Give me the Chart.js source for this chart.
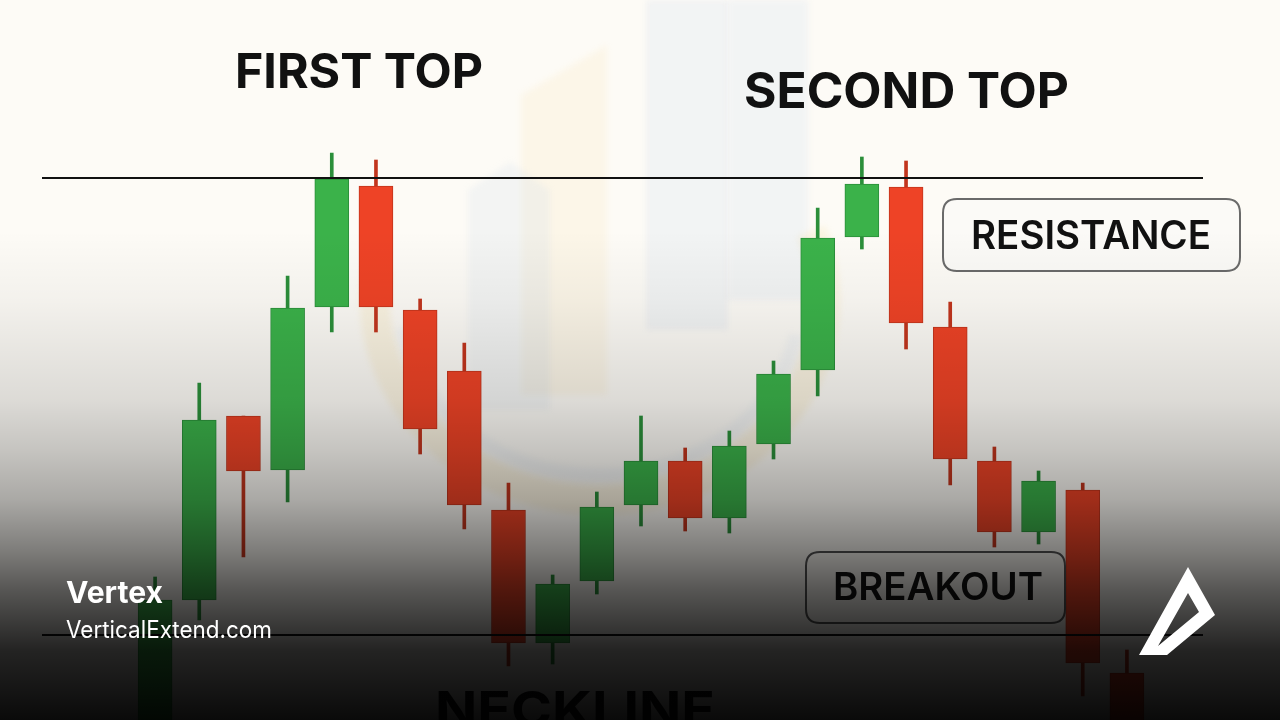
<!DOCTYPE html>
<html>
<head>
<meta charset="utf-8">
<script src="https://cdn.jsdelivr.net/npm/chart.js@4.4.1/dist/chart.umd.min.js"></script>
<style>
  html, body { margin: 0; padding: 0; background: #fdfbf6; overflow: hidden; }
  #wrap { position: relative; width: 1280px; height: 720px; }
</style>
</head>
<body>
<div id="wrap"><canvas id="c" width="1280" height="720"></canvas></div>
<script>
// ---- Data (price units) ----
const categories = ['1','2','3','4','5','6','7','8','9','10','11','12','13','14','15','16','17','18','19','20','21','22','23'];
const opens  = [-5, 24, 60.8, 50, 82.6, 106.8, 82, 69.8, 42, 15.4, 27.8, 43, 51.8, 40.4, 55.2, 70, 96.6, 106.6, 78.6, 51.8, 37.6, 46, 9.4];
const closes = [24, 60, 49.8, 82.4, 108.2, 82.6, 58.2, 43, 15.4, 27.2, 42.6, 51.8, 40.4, 54.8, 69.2, 96.4, 107.2, 79.4, 52.2, 37.6, 47.8, 11.4, -5];
const highs  = [28.6, 67.4, 60.8, 88.8, 113.4, 112, 84.2, 75.4, 47.4, 29, 45.6, 60.8, 54.4, 57.8, 71.8, 102.4, 112.6, 111.8, 83.6, 54.6, 49.8, 47.4, 14];
const lows   = [-10, 20, 32.6, 43.6, 77.6, 77.6, 53.2, 38.2, 10.8, 11.2, 25.2, 38.8, 37.8, 37.4, 52.2, 64.8, 94.2, 74.2, 47, 34.6, 35.2, 4.8, -10];
const resistanceLevel = 108.4;
const necklineLevel = 17;
const yMin = 0, yMax = 144;

const GREEN = '#3bb24a', GREEN_B = '#2b8f3a';
const RED = '#ee4326', RED_B = '#c2351d';
const isUp = opens.map((o, i) => closes[i] >= o);

function roundRect(ctx, x, y, w, h, r) {
  ctx.beginPath();
  ctx.moveTo(x + r, y);
  ctx.lineTo(x + w - r, y);
  ctx.quadraticCurveTo(x + w, y, x + w, y + r);
  ctx.lineTo(x + w, y + h - r);
  ctx.quadraticCurveTo(x + w, y + h, x + w - r, y + h);
  ctx.lineTo(x + r, y + h);
  ctx.quadraticCurveTo(x, y + h, x, y + h - r);
  ctx.lineTo(x, y + r);
  ctx.quadraticCurveTo(x, y, x + r, y);
  ctx.closePath();
}
function fitText(ctx, text, x, baseline, width, font, color) {
  ctx.save();
  ctx.font = font;
  ctx.fillStyle = color;
  ctx.textBaseline = 'alphabetic';
  ctx.textAlign = 'left';
  const w = ctx.measureText(text).width;
  ctx.translate(x, baseline);
  ctx.scale(width / w, 1);
  ctx.fillText(text, 0, 0);
  ctx.restore();
}

const backdrop = {
  id: 'backdrop',
  beforeDraw(chart) {
    const ctx = chart.ctx;
    ctx.save();
    ctx.fillStyle = '#fdfbf6';
    ctx.fillRect(0, 0, 1280, 720);
    // faint, soft watermark
    ctx.filter = 'blur(3px)';
    ctx.fillStyle = 'rgba(205,218,236,0.22)';
    ctx.fillRect(646, 0, 82, 330);
    ctx.fillStyle = 'rgba(215,228,242,0.28)';
    ctx.fillRect(728, 0, 80, 300);
    ctx.fillStyle = 'rgba(250,232,180,0.2)';
    ctx.beginPath();
    ctx.moveTo(521, 95); ctx.lineTo(607, 45); ctx.lineTo(607, 395); ctx.lineTo(521, 395); ctx.closePath(); ctx.fill();
    ctx.fillStyle = 'rgba(205,218,236,0.2)';
    ctx.beginPath();
    ctx.moveTo(468, 190); ctx.lineTo(510, 162); ctx.lineTo(550, 190); ctx.lineTo(550, 410); ctx.lineTo(468, 410); ctx.closePath(); ctx.fill();
    ctx.strokeStyle = 'rgba(245,215,140,0.18)';
    ctx.lineWidth = 30;
    ctx.beginPath();
    ctx.ellipse(600, 300, 225, 200, 0, -0.35, Math.PI * 1.05);
    ctx.stroke();
    ctx.strokeStyle = 'rgba(200,215,235,0.16)';
    ctx.lineWidth = 14;
    ctx.beginPath();
    ctx.ellipse(600, 300, 200, 175, 0, 0.2, Math.PI * 0.95);
    ctx.stroke();
    ctx.filter = 'none';
    ctx.restore();
  },
  afterDatasetsDraw(chart) {
    const ctx = chart.ctx;
    const y = chart.scales.y;
    ctx.save();
    // horizontal lines
    ctx.strokeStyle = '#111';
    ctx.lineWidth = 2;
    [resistanceLevel, necklineLevel].forEach(v => {
      const py = Math.round(y.getPixelForValue(v));
      ctx.beginPath(); ctx.moveTo(42, py); ctx.lineTo(1203, py); ctx.stroke();
    });
    // titles
    fitText(ctx, 'FIRST TOP', 235, 88, 248, '700 48px Inter', '#111');
    fitText(ctx, 'SECOND TOP', 744, 108, 325, '700 49px Inter', '#111');
    // resistance box
    roundRect(ctx, 943, 199, 297, 72, 14);
    ctx.fillStyle = '#fbfaf7'; ctx.fill();
    ctx.lineWidth = 2; ctx.strokeStyle = '#6a6a6a'; ctx.stroke();
    fitText(ctx, 'RESISTANCE', 971, 249, 240, '600 39px Inter', '#111');
    // breakout box
    roundRect(ctx, 806, 552, 259, 71, 14);
    ctx.fillStyle = 'rgba(255,255,255,0.06)'; ctx.fill();
    ctx.lineWidth = 2; ctx.strokeStyle = '#555'; ctx.stroke();
    fitText(ctx, 'BREAKOUT', 833, 600, 210, '600 38px Inter', '#111');
    // neckline label (cut off by bottom edge)
    fitText(ctx, 'NECKLINE', 435, 727, 280, '700 50px Inter', '#111');
    // dark overlay
    const g = ctx.createLinearGradient(0, 0, 0, 720);
    g.addColorStop(0, 'rgba(0,0,0,0)');
    g.addColorStop(230/720, 'rgba(0,0,0,0)');
    g.addColorStop(300/720, 'rgba(0,0,0,0.04)');
    g.addColorStop(400/720, 'rgba(0,0,0,0.13)');
    g.addColorStop(450/720, 'rgba(0,0,0,0.22)');
    g.addColorStop(500/720, 'rgba(0,0,0,0.33)');
    g.addColorStop(550/720, 'rgba(0,0,0,0.5)');
    g.addColorStop(590/720, 'rgba(0,0,0,0.66)');
    g.addColorStop(650/720, 'rgba(0,0,0,0.86)');
    g.addColorStop(1, 'rgba(0,0,0,0.96)');
    ctx.fillStyle = g;
    ctx.fillRect(0, 0, 1280, 720);
    // branding
    fitText(ctx, 'Vertex', 66, 603, 97, '700 30px Inter', '#ffffff');
    fitText(ctx, 'VerticalExtend.com', 66, 638, 206, '400 24px Inter', '#ffffff');
    ctx.fillStyle = '#ffffff';
    ctx.beginPath();
    ctx.moveTo(1188, 567); ctx.lineTo(1215, 615); ctx.lineTo(1167, 655); ctx.lineTo(1139, 655); ctx.closePath();
    ctx.moveTo(1188, 593); ctx.lineTo(1158, 646); ctx.lineTo(1199, 612); ctx.closePath();
    ctx.fill('evenodd');
    ctx.restore();
  }
};

new Chart(document.getElementById('c'), {
  type: 'bar',
  data: {
    labels: categories,
    datasets: [
      {
        label: 'Body',
        data: categories.map((c, i) => [opens[i], closes[i]]),
        backgroundColor: isUp.map(u => u ? GREEN : RED),
        borderColor: isUp.map(u => u ? GREEN_B : RED_B),
        borderWidth: 1,
        borderSkipped: false,
        barThickness: 34,
        grouped: false,
        order: 1
      },
      {
        label: 'Wick',
        data: categories.map((c, i) => [lows[i], highs[i]]),
        backgroundColor: isUp.map(u => u ? GREEN_B : RED_B),
        borderWidth: 0,
        barThickness: 3,
        grouped: false,
        order: 2
      }
    ]
  },
  options: {
    responsive: false,
    animation: false,
    devicePixelRatio: 1,
    layout: { padding: { left: 133, right: 131, top: 0, bottom: 0 } },
    plugins: { legend: { display: false }, tooltip: { enabled: false } },
    scales: {
      x: { type: 'category', offset: true, display: false, grid: { display: false } },
      y: { min: yMin, max: yMax, display: false, grid: { display: false } }
    }
  },
  plugins: [backdrop]
});
</script>
</body>
</html>
